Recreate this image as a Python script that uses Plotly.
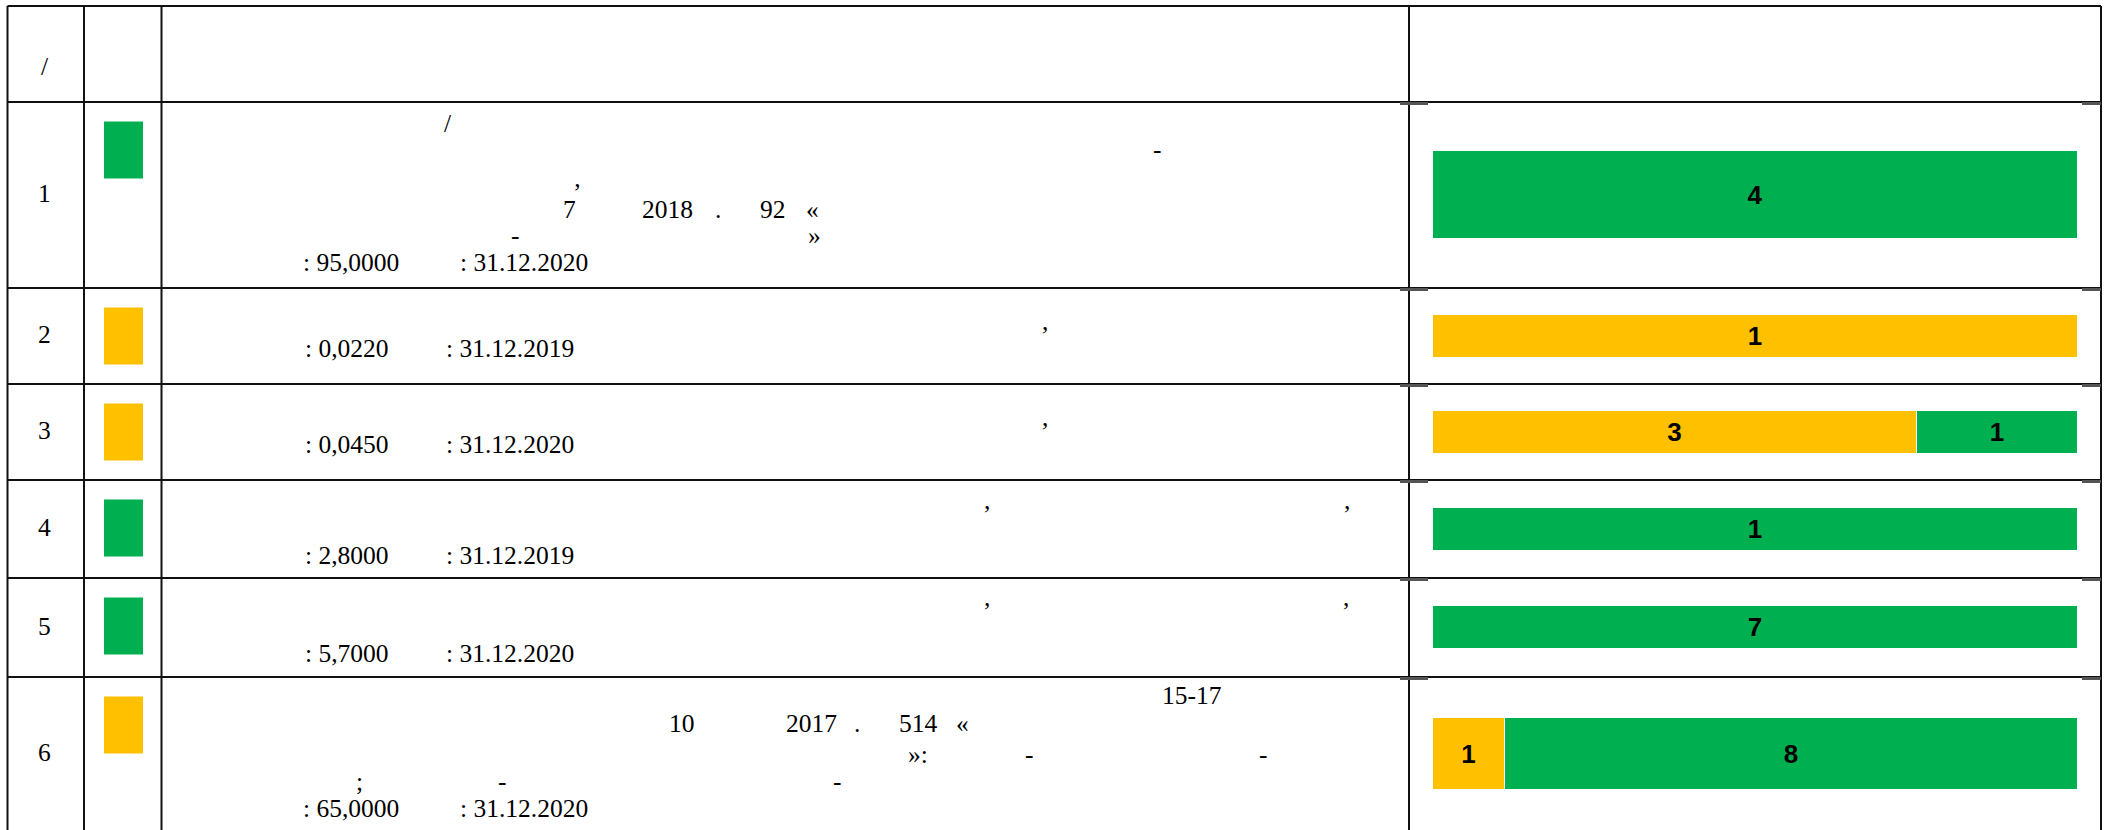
import plotly.graph_objects as go

# ---------------- data ----------------
row_numbers = ["1", "2", "3", "4", "5", "6"]
yellow_counts = [0, 1, 3, 0, 0, 1]
green_counts = [4, 0, 1, 1, 7, 8]
row_status = ["green", "yellow", "yellow", "green", "green", "yellow"]
header_texts = ["/"]

# visible text fragments of the description column (row index, text)
fragment_texts = [
    (0, "/"), (0, "-"), (0, "\u2019"), (0, "7"), (0, "2018"), (0, "."), (0, "92"), (0, "\u00ab"),
    (0, "-"), (0, "\u00bb"), (0, ": 95,0000"), (0, ": 31.12.2020"),
    (1, ","), (1, ": 0,0220"), (1, ": 31.12.2019"),
    (2, ","), (2, ": 0,0450"), (2, ": 31.12.2020"),
    (3, ","), (3, ","), (3, ": 2,8000"), (3, ": 31.12.2019"),
    (4, ","), (4, ","), (4, ": 5,7000"), (4, ": 31.12.2020"),
    (5, "15-17"), (5, "10"), (5, "2017"), (5, "."), (5, "514"), (5, "\u00ab"),
    (5, "\u00bb:"), (5, "-"), (5, "-"), (5, ";"), (5, "-"), (5, "-"),
    (5, ": 65,0000"), (5, ": 31.12.2020"),
]

# ---------------- layout (pixel geometry / styles) ----------------
W, H = 2110, 830
GREEN = "#00B050"
YELLOW = "#FFC000"
LINE = "#111111"
COL_X = [7.5, 84, 161.5, 1409, 2101]
ROW_Y = [6, 102, 288, 384, 480, 578, 677, 831]   # header top, then row boundaries
BAR_X0, BAR_X1 = 1433, 2078
BAR_THICK = [88, 43, 43, 43, 43, 72]
SQ_X0, SQ_X1, SQ_OFF, SQ_H = 104, 143, 19.5, 57
TXT_SIZE = 25.5
# (x_left, baseline) for each fragment, same order as fragment_texts
fragment_pos = [
    (444, 132), (1153, 158.6), (573, 201), (563, 218), (642, 218), (715, 218), (760, 218), (806, 218),
    (511, 244), (808, 244), (303, 271), (460, 271),
    (1042, 330), (305, 357), (446, 357),
    (1042, 426), (305, 453), (446, 453),
    (984, 509), (1344, 509), (305, 564), (446, 564),
    (984, 606), (1343, 606), (305, 662), (446, 662),
    (1162, 704), (669, 732), (786, 732), (854, 732), (899, 732), (956, 732),
    (908, 763), (1025, 763), (1259, 763), (356, 790), (498, 790), (833, 790),
    (303, 817), (460, 817),
]


def px(x):
    return x / W


def py(y):
    return 1 - y / H


n_rows = len(row_numbers)
row_tops = ROW_Y[1:1 + n_rows]
row_bottoms = ROW_Y[2:2 + n_rows]
centers = [(a + b) / 2 for a, b in zip(row_tops, row_bottoms)]
status_color = {"green": GREEN, "yellow": YELLOW}

fig = go.Figure()
label_font = dict(family="Liberation Sans, Arial", size=26, color="black", weight="bold")
for vals, col in ((yellow_counts, YELLOW), (green_counts, GREEN)):
    fig.add_trace(go.Bar(
        orientation="h", y=centers, x=vals, width=BAR_THICK,
        marker=dict(color=col, line=dict(color="white", width=1)),
        text=[str(v) if v else "" for v in vals],
        textposition="inside", insidetextanchor="middle",
        textfont=label_font, insidetextfont=label_font,
        hoverinfo="skip", showlegend=False,
    ))

shapes = []
# table grid
for x in COL_X:
    shapes.append(dict(type="line", xref="paper", yref="paper", x0=px(x), x1=px(x),
                       y0=py(ROW_Y[0]), y1=py(H), line=dict(color=LINE, width=2)))
for y in ROW_Y[:-1]:
    shapes.append(dict(type="line", xref="paper", yref="paper", x0=px(COL_X[0]), x1=px(COL_X[-1]),
                       y0=py(y), y1=py(y), line=dict(color=LINE, width=2)))
# small grey ticks at ends of row lines in the chart column
for y in ROW_Y[1:-1]:
    for xa, xb in ((1400, 1428), (2082, 2101)):
        shapes.append(dict(type="line", xref="paper", yref="paper", x0=px(xa), x1=px(xb),
                           y0=py(y + 1.5), y1=py(y + 1.5), line=dict(color="#555555", width=3)))
# status squares
for top, st in zip(row_tops, row_status):
    shapes.append(dict(type="rect", xref="paper", yref="paper", x0=px(SQ_X0), x1=px(SQ_X1),
                       y0=py(top + SQ_OFF), y1=py(top + SQ_OFF + SQ_H),
                       fillcolor=status_color[st], line=dict(width=0), layer="above"))

annotations = []
serif = dict(family="Liberation Serif, Times New Roman", size=TXT_SIZE, color="black")
shift = 0.3375 * TXT_SIZE  # baseline -> text box centre


def add_text(t, x, y, anchor):
    annotations.append(dict(text=t, x=px(x), y=py(y), xref="paper", yref="paper",
                            xanchor=anchor, yanchor="middle", showarrow=False, font=serif,
                            borderpad=0, borderwidth=0))


add_text(header_texts[0], 44.6, 75 - shift, "center")
for n, c in zip(row_numbers, centers):
    add_text(n, 44.5, c + 7.5 - shift, "center")
for (ri, t), (x, b) in zip(fragment_texts, fragment_pos):
    add_text(t, x, b - shift, "left")

fig.update_layout(
    width=W, height=H, margin=dict(l=0, r=0, t=0, b=0),
    paper_bgcolor="white", plot_bgcolor="rgba(0,0,0,0)",
    barmode="stack", barnorm="fraction", bargap=0,
    xaxis=dict(domain=[BAR_X0 / W, BAR_X1 / W], range=[0, 1], visible=False, fixedrange=True),
    yaxis=dict(domain=[0, 1], range=[H, 0], visible=False, fixedrange=True),
    shapes=shapes, annotations=annotations, showlegend=False,
)
fig.write_html(
    "out.html",
    config={"displayModeBar": False},
    post_script="document.documentElement.style.margin='0';document.body.style.margin='0';"
                "document.body.style.overflow='hidden';",
)
